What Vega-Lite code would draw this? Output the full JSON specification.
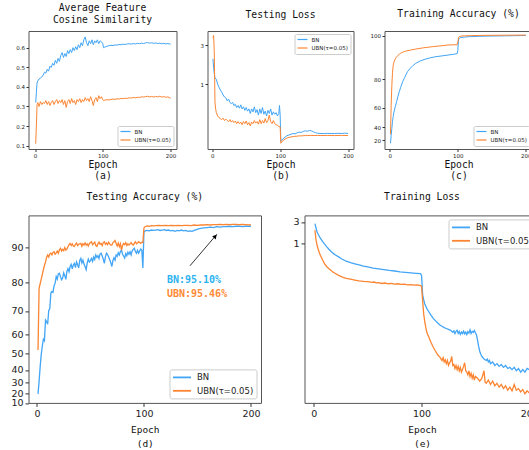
{
"$schema":"https://vega.github.io/schema/vega-lite/v6.json",
"padding":{"left":9.5,"top":2,"right":0,"bottom":0},
"background":"white",
"config":{
 "view":{"stroke":"#555555","strokeWidth":1},
 "axis":{"domain":false,"grid":false,"tickColor":"#333333","labelColor":"#222222","labelFont":"DejaVu Sans","titleFont":"DejaVu Sans Mono","titleFontWeight":"normal","titleColor":"#111111","labelFlush":false,"labelOverlap":false},
 "title":{"font":"DejaVu Sans Mono","fontSize":9.7,"fontWeight":"normal","color":"#111111","baseline":"bottom","anchor":"middle","frame":"group"},
 "legend":{"labelFont":"DejaVu Sans","labelColor":"#222222"}
},
"datasets":{
"a_bn":[{"e":1,"v":0.32},{"e":2,"v":0.37},{"e":3,"v":0.42},{"e":4,"v":0.43},{"e":6,"v":0.44},{"e":8,"v":0.445},{"e":10,"v":0.45},{"e":12,"v":0.46},{"e":14,"v":0.475},{"e":16,"v":0.47},{"e":18,"v":0.49},{"e":20,"v":0.48},{"e":22,"v":0.505},{"e":24,"v":0.5},{"e":26,"v":0.52},{"e":28,"v":0.51},{"e":30,"v":0.535},{"e":32,"v":0.52},{"e":34,"v":0.545},{"e":36,"v":0.53},{"e":38,"v":0.56},{"e":40,"v":0.575},{"e":42,"v":0.55},{"e":44,"v":0.57},{"e":46,"v":0.555},{"e":48,"v":0.585},{"e":50,"v":0.57},{"e":52,"v":0.59},{"e":54,"v":0.575},{"e":56,"v":0.6},{"e":58,"v":0.585},{"e":60,"v":0.605},{"e":62,"v":0.59},{"e":64,"v":0.615},{"e":66,"v":0.6},{"e":68,"v":0.625},{"e":70,"v":0.61},{"e":72,"v":0.64},{"e":74,"v":0.655},{"e":76,"v":0.625},{"e":78,"v":0.61},{"e":80,"v":0.635},{"e":82,"v":0.62},{"e":84,"v":0.64},{"e":86,"v":0.615},{"e":88,"v":0.635},{"e":90,"v":0.625},{"e":92,"v":0.64},{"e":94,"v":0.62},{"e":96,"v":0.635},{"e":98,"v":0.63},{"e":100,"v":0.62},{"e":101,"v":0.6},{"e":103,"v":0.603},{"e":106,"v":0.607},{"e":109,"v":0.61},{"e":112,"v":0.612},{"e":115,"v":0.611},{"e":118,"v":0.614},{"e":121,"v":0.613},{"e":124,"v":0.616},{"e":127,"v":0.615},{"e":130,"v":0.618},{"e":133,"v":0.616},{"e":136,"v":0.619},{"e":139,"v":0.62},{"e":142,"v":0.618},{"e":145,"v":0.621},{"e":148,"v":0.619},{"e":151,"v":0.622},{"e":154,"v":0.62},{"e":157,"v":0.623},{"e":160,"v":0.621},{"e":163,"v":0.624},{"e":166,"v":0.626},{"e":169,"v":0.623},{"e":172,"v":0.625},{"e":175,"v":0.622},{"e":178,"v":0.624},{"e":181,"v":0.621},{"e":184,"v":0.623},{"e":187,"v":0.62},{"e":190,"v":0.622},{"e":193,"v":0.619},{"e":196,"v":0.621},{"e":199,"v":0.618},{"e":200,"v":0.619}],
"a_ubn":[{"e":1,"v":0.11},{"e":2,"v":0.2},{"e":3,"v":0.31},{"e":4,"v":0.32},{"e":6,"v":0.3},{"e":8,"v":0.325},{"e":10,"v":0.31},{"e":12,"v":0.32},{"e":14,"v":0.315},{"e":16,"v":0.33},{"e":18,"v":0.31},{"e":20,"v":0.325},{"e":22,"v":0.305},{"e":24,"v":0.32},{"e":26,"v":0.33},{"e":28,"v":0.31},{"e":30,"v":0.325},{"e":32,"v":0.335},{"e":34,"v":0.315},{"e":36,"v":0.33},{"e":38,"v":0.32},{"e":40,"v":0.335},{"e":42,"v":0.31},{"e":44,"v":0.33},{"e":46,"v":0.295},{"e":48,"v":0.325},{"e":50,"v":0.335},{"e":52,"v":0.315},{"e":54,"v":0.34},{"e":56,"v":0.32},{"e":58,"v":0.33},{"e":60,"v":0.31},{"e":62,"v":0.335},{"e":64,"v":0.325},{"e":66,"v":0.34},{"e":68,"v":0.32},{"e":70,"v":0.335},{"e":72,"v":0.325},{"e":74,"v":0.345},{"e":76,"v":0.33},{"e":78,"v":0.34},{"e":80,"v":0.325},{"e":82,"v":0.35},{"e":84,"v":0.33},{"e":86,"v":0.305},{"e":88,"v":0.335},{"e":90,"v":0.345},{"e":92,"v":0.325},{"e":94,"v":0.355},{"e":96,"v":0.34},{"e":98,"v":0.35},{"e":100,"v":0.335},{"e":101,"v":0.33},{"e":103,"v":0.332},{"e":106,"v":0.335},{"e":109,"v":0.333},{"e":112,"v":0.336},{"e":115,"v":0.338},{"e":118,"v":0.336},{"e":121,"v":0.339},{"e":124,"v":0.338},{"e":127,"v":0.341},{"e":130,"v":0.34},{"e":133,"v":0.342},{"e":136,"v":0.341},{"e":139,"v":0.344},{"e":142,"v":0.343},{"e":145,"v":0.346},{"e":148,"v":0.344},{"e":151,"v":0.347},{"e":154,"v":0.346},{"e":157,"v":0.349},{"e":160,"v":0.348},{"e":163,"v":0.35},{"e":166,"v":0.352},{"e":169,"v":0.349},{"e":172,"v":0.351},{"e":175,"v":0.348},{"e":178,"v":0.351},{"e":181,"v":0.349},{"e":184,"v":0.352},{"e":187,"v":0.348},{"e":190,"v":0.35},{"e":193,"v":0.347},{"e":196,"v":0.349},{"e":199,"v":0.344},{"e":200,"v":0.342}],
"b_bn":[{"e":1,"v":2.05},{"e":2,"v":1.6},{"e":3,"v":1.35},{"e":4,"v":1.2},{"e":6,"v":1.15},{"e":8,"v":1.0},{"e":10,"v":0.92},{"e":12,"v":0.85},{"e":14,"v":0.8},{"e":16,"v":0.74},{"e":18,"v":0.7},{"e":20,"v":0.68},{"e":22,"v":0.63},{"e":24,"v":0.66},{"e":26,"v":0.6},{"e":28,"v":0.58},{"e":30,"v":0.6},{"e":32,"v":0.55},{"e":34,"v":0.57},{"e":36,"v":0.52},{"e":38,"v":0.55},{"e":40,"v":0.51},{"e":42,"v":0.56},{"e":44,"v":0.5},{"e":46,"v":0.53},{"e":48,"v":0.48},{"e":50,"v":0.52},{"e":52,"v":0.47},{"e":54,"v":0.5},{"e":56,"v":0.44},{"e":58,"v":0.5},{"e":60,"v":0.46},{"e":62,"v":0.53},{"e":64,"v":0.45},{"e":66,"v":0.49},{"e":68,"v":0.42},{"e":70,"v":0.5},{"e":72,"v":0.44},{"e":74,"v":0.52},{"e":76,"v":0.43},{"e":78,"v":0.47},{"e":80,"v":0.41},{"e":82,"v":0.48},{"e":84,"v":0.44},{"e":86,"v":0.5},{"e":88,"v":0.42},{"e":90,"v":0.46},{"e":92,"v":0.43},{"e":94,"v":0.45},{"e":96,"v":0.41},{"e":98,"v":0.44},{"e":99,"v":0.55},{"e":100,"v":0.42},{"e":101,"v":0.2},{"e":102,"v":0.205},{"e":104,"v":0.215},{"e":107,"v":0.225},{"e":110,"v":0.235},{"e":113,"v":0.24},{"e":116,"v":0.245},{"e":119,"v":0.25},{"e":122,"v":0.248},{"e":125,"v":0.255},{"e":128,"v":0.26},{"e":131,"v":0.258},{"e":134,"v":0.265},{"e":137,"v":0.27},{"e":140,"v":0.266},{"e":143,"v":0.272},{"e":146,"v":0.27},{"e":149,"v":0.262},{"e":152,"v":0.256},{"e":155,"v":0.252},{"e":160,"v":0.25},{"e":165,"v":0.25},{"e":170,"v":0.251},{"e":175,"v":0.25},{"e":180,"v":0.25},{"e":185,"v":0.251},{"e":190,"v":0.25},{"e":195,"v":0.252},{"e":200,"v":0.25}],
"b_ubn":[{"e":1,"v":3.7},{"e":2,"v":3.95},{"e":3,"v":2.5},{"e":4,"v":0.6},{"e":5,"v":0.5},{"e":6,"v":0.45},{"e":8,"v":0.41},{"e":10,"v":0.39},{"e":12,"v":0.38},{"e":14,"v":0.37},{"e":16,"v":0.385},{"e":18,"v":0.36},{"e":20,"v":0.375},{"e":22,"v":0.36},{"e":24,"v":0.35},{"e":26,"v":0.37},{"e":28,"v":0.345},{"e":30,"v":0.36},{"e":32,"v":0.34},{"e":34,"v":0.355},{"e":36,"v":0.33},{"e":38,"v":0.35},{"e":40,"v":0.33},{"e":42,"v":0.345},{"e":44,"v":0.32},{"e":46,"v":0.35},{"e":48,"v":0.33},{"e":50,"v":0.355},{"e":52,"v":0.32},{"e":54,"v":0.34},{"e":56,"v":0.31},{"e":58,"v":0.345},{"e":60,"v":0.33},{"e":62,"v":0.36},{"e":64,"v":0.335},{"e":66,"v":0.35},{"e":68,"v":0.325},{"e":70,"v":0.37},{"e":72,"v":0.33},{"e":74,"v":0.36},{"e":76,"v":0.335},{"e":78,"v":0.38},{"e":80,"v":0.34},{"e":82,"v":0.36},{"e":84,"v":0.42},{"e":86,"v":0.35},{"e":88,"v":0.33},{"e":90,"v":0.36},{"e":92,"v":0.33},{"e":94,"v":0.32},{"e":96,"v":0.315},{"e":98,"v":0.305},{"e":100,"v":0.3},{"e":101,"v":0.19},{"e":102,"v":0.195},{"e":104,"v":0.205},{"e":107,"v":0.213},{"e":110,"v":0.22},{"e":113,"v":0.224},{"e":116,"v":0.227},{"e":119,"v":0.229},{"e":122,"v":0.231},{"e":125,"v":0.232},{"e":128,"v":0.234},{"e":131,"v":0.234},{"e":134,"v":0.235},{"e":137,"v":0.236},{"e":140,"v":0.236},{"e":145,"v":0.237},{"e":150,"v":0.236},{"e":155,"v":0.237},{"e":160,"v":0.236},{"e":170,"v":0.237},{"e":180,"v":0.236},{"e":190,"v":0.237},{"e":200,"v":0.236}],
"c_bn":[{"e":1,"v":14},{"e":2,"v":27.7},{"e":3,"v":38.5},{"e":4,"v":46.1},{"e":5,"v":51.1},{"e":6,"v":55.2},{"e":8,"v":60.6},{"e":10,"v":64.1},{"e":12,"v":67.9},{"e":14,"v":71.2},{"e":16,"v":74.2},{"e":19,"v":78.2},{"e":22,"v":80.8},{"e":26,"v":83.4},{"e":30,"v":84.9},{"e":34,"v":86.2},{"e":38,"v":87.2},{"e":45,"v":88.4},{"e":53,"v":89.2},{"e":60,"v":89.8},{"e":68,"v":90.3},{"e":78,"v":90.7},{"e":87,"v":91.1},{"e":94,"v":91.4},{"e":99,"v":91.7},{"e":100,"v":93},{"e":101,"v":98},{"e":102,"v":98.7},{"e":104,"v":99.1},{"e":110,"v":99.3},{"e":117,"v":99.5},{"e":130,"v":99.65},{"e":140,"v":99.75},{"e":150,"v":99.8},{"e":160,"v":99.85},{"e":170,"v":99.9},{"e":180,"v":99.95},{"e":190,"v":100},{"e":200,"v":100.05}],
"c_ubn":[{"e":1,"v":29.2},{"e":2,"v":61.6},{"e":3,"v":75.6},{"e":4,"v":83.1},{"e":5,"v":86.3},{"e":6,"v":87.7},{"e":8,"v":89.3},{"e":10,"v":90.2},{"e":12,"v":90.9},{"e":14,"v":91.4},{"e":17,"v":92.1},{"e":20,"v":92.5},{"e":24,"v":92.9},{"e":30,"v":93.3},{"e":38,"v":93.8},{"e":50,"v":94.4},{"e":63,"v":94.9},{"e":75,"v":95.3},{"e":87,"v":95.7},{"e":99,"v":95.8},{"e":100,"v":96.9},{"e":101,"v":99},{"e":102,"v":99.5},{"e":105,"v":99.8},{"e":110,"v":99.9},{"e":120,"v":100},{"e":140,"v":100.1},{"e":170,"v":100.15},{"e":200,"v":100.2}],
"d_bn":[{"e":1,"v":19.3},{"e":2,"v":31.0},{"e":3,"v":42.0},{"e":4,"v":49.4},{"e":5,"v":53.8},{"e":6,"v":57.4},{"e":7,"v":56.6},{"e":8,"v":66.1},{"e":9,"v":65.4},{"e":10,"v":64.3},{"e":11,"v":70.1},{"e":12,"v":70.8},{"e":13,"v":76.3},{"e":14,"v":76.9},{"e":15,"v":76.6},{"e":16,"v":78.9},{"e":17,"v":79.8},{"e":18,"v":81.7},{"e":19,"v":81.0},{"e":20,"v":82.5},{"e":21,"v":82.7},{"e":22,"v":81.7},{"e":23,"v":80.8},{"e":24,"v":81.3},{"e":25,"v":82.8},{"e":26,"v":82.0},{"e":27,"v":80.9},{"e":28,"v":83.2},{"e":29,"v":84.0},{"e":30,"v":83.1},{"e":31,"v":84.6},{"e":32,"v":85.2},{"e":33,"v":83.9},{"e":34,"v":85.0},{"e":35,"v":85.5},{"e":36,"v":84.3},{"e":37,"v":85.9},{"e":38,"v":85.1},{"e":39,"v":84.2},{"e":40,"v":86.3},{"e":41,"v":86.9},{"e":42,"v":85.6},{"e":43,"v":86.4},{"e":44,"v":85.3},{"e":45,"v":84.5},{"e":46,"v":83.7},{"e":47,"v":85.6},{"e":48,"v":86.7},{"e":49,"v":85.9},{"e":50,"v":86.3},{"e":51,"v":86.9},{"e":52,"v":86.1},{"e":53,"v":87.3},{"e":54,"v":86.6},{"e":55,"v":87.9},{"e":56,"v":87.2},{"e":57,"v":87.7},{"e":58,"v":86.9},{"e":59,"v":88.2},{"e":60,"v":88.4},{"e":61,"v":87.6},{"e":62,"v":86.7},{"e":63,"v":85.5},{"e":64,"v":87.4},{"e":65,"v":88.4},{"e":66,"v":88.0},{"e":67,"v":87.3},{"e":68,"v":86.5},{"e":69,"v":85.7},{"e":70,"v":84.6},{"e":71,"v":86.3},{"e":72,"v":87.1},{"e":73,"v":86.4},{"e":74,"v":87.9},{"e":75,"v":87.5},{"e":76,"v":88.5},{"e":77,"v":87.9},{"e":78,"v":88.9},{"e":79,"v":89.3},{"e":80,"v":88.1},{"e":81,"v":87.6},{"e":82,"v":87.0},{"e":83,"v":88.3},{"e":84,"v":87.7},{"e":85,"v":88.7},{"e":86,"v":88.1},{"e":87,"v":88.8},{"e":88,"v":87.9},{"e":89,"v":89.1},{"e":90,"v":89.5},{"e":91,"v":89.8},{"e":92,"v":88.9},{"e":93,"v":88.4},{"e":94,"v":89.2},{"e":95,"v":88.4},{"e":96,"v":89.0},{"e":97,"v":89.6},{"e":98,"v":89.3},{"e":99,"v":84.2},{"e":100,"v":93.7},{"e":101,"v":94.0},{"e":103,"v":94.1},{"e":105,"v":94.0},{"e":107,"v":94.2},{"e":109,"v":94.1},{"e":111,"v":94.2},{"e":113,"v":94.3},{"e":115,"v":94.1},{"e":117,"v":94.2},{"e":119,"v":94.3},{"e":121,"v":94.1},{"e":123,"v":94.2},{"e":125,"v":94.0},{"e":127,"v":94.1},{"e":129,"v":93.9},{"e":131,"v":94.1},{"e":133,"v":94.0},{"e":135,"v":94.2},{"e":137,"v":94.0},{"e":139,"v":94.1},{"e":141,"v":93.9},{"e":143,"v":94.0},{"e":145,"v":93.9},{"e":147,"v":94.1},{"e":149,"v":94.3},{"e":151,"v":94.5},{"e":153,"v":94.6},{"e":156,"v":94.7},{"e":159,"v":94.8},{"e":162,"v":94.9},{"e":165,"v":94.8},{"e":168,"v":95.0},{"e":171,"v":94.9},{"e":174,"v":95.0},{"e":177,"v":95.0},{"e":180,"v":95.1},{"e":183,"v":95.0},{"e":186,"v":95.1},{"e":189,"v":95.1},{"e":192,"v":95.0},{"e":195,"v":95.1},{"e":198,"v":95.1},{"e":200,"v":95.1}],
"d_ubn":[{"e":1,"v":51.9},{"e":2,"v":78.0},{"e":3,"v":79.6},{"e":4,"v":81.0},{"e":5,"v":82.3},{"e":6,"v":83.7},{"e":7,"v":84.9},{"e":8,"v":85.9},{"e":9,"v":87.2},{"e":10,"v":87.9},{"e":11,"v":87.3},{"e":12,"v":88.2},{"e":13,"v":88.4},{"e":14,"v":87.9},{"e":15,"v":88.6},{"e":16,"v":88.8},{"e":17,"v":88.1},{"e":18,"v":88.5},{"e":19,"v":89.0},{"e":20,"v":88.4},{"e":21,"v":89.4},{"e":22,"v":89.8},{"e":23,"v":89.0},{"e":24,"v":89.5},{"e":25,"v":89.1},{"e":26,"v":90.0},{"e":27,"v":89.3},{"e":28,"v":89.6},{"e":29,"v":90.2},{"e":30,"v":90.7},{"e":31,"v":91.0},{"e":32,"v":90.5},{"e":33,"v":90.9},{"e":34,"v":90.4},{"e":35,"v":90.3},{"e":36,"v":90.8},{"e":37,"v":91.1},{"e":38,"v":90.5},{"e":39,"v":90.8},{"e":40,"v":90.9},{"e":41,"v":91.0},{"e":42,"v":90.3},{"e":43,"v":90.9},{"e":44,"v":90.6},{"e":45,"v":91.1},{"e":46,"v":90.6},{"e":47,"v":90.9},{"e":48,"v":90.4},{"e":49,"v":91.0},{"e":50,"v":91.2},{"e":51,"v":91.4},{"e":52,"v":90.7},{"e":53,"v":91.0},{"e":54,"v":91.3},{"e":55,"v":90.5},{"e":56,"v":90.3},{"e":57,"v":90.9},{"e":58,"v":91.3},{"e":59,"v":90.8},{"e":60,"v":91.0},{"e":61,"v":90.5},{"e":62,"v":91.2},{"e":63,"v":91.4},{"e":64,"v":90.8},{"e":65,"v":91.1},{"e":66,"v":90.7},{"e":67,"v":91.3},{"e":68,"v":90.9},{"e":69,"v":90.6},{"e":70,"v":90.6},{"e":71,"v":91.2},{"e":72,"v":91.4},{"e":73,"v":91.7},{"e":74,"v":91.0},{"e":75,"v":90.4},{"e":76,"v":91.1},{"e":77,"v":90.2},{"e":78,"v":90.9},{"e":79,"v":89.3},{"e":80,"v":90.5},{"e":81,"v":91.0},{"e":82,"v":90.7},{"e":83,"v":91.2},{"e":84,"v":90.5},{"e":85,"v":90.9},{"e":86,"v":90.6},{"e":87,"v":90.9},{"e":88,"v":91.2},{"e":89,"v":90.8},{"e":90,"v":90.6},{"e":91,"v":91.0},{"e":92,"v":91.4},{"e":93,"v":90.9},{"e":94,"v":91.1},{"e":95,"v":91.4},{"e":96,"v":91.2},{"e":97,"v":91.0},{"e":98,"v":91.3},{"e":99,"v":91.2},{"e":100,"v":94.7},{"e":101,"v":95.0},{"e":103,"v":95.2},{"e":105,"v":95.1},{"e":107,"v":95.25},{"e":109,"v":95.2},{"e":111,"v":95.25},{"e":114,"v":95.3},{"e":117,"v":95.25},{"e":120,"v":95.3},{"e":123,"v":95.25},{"e":126,"v":95.3},{"e":129,"v":95.25},{"e":132,"v":95.3},{"e":135,"v":95.25},{"e":138,"v":95.3},{"e":141,"v":95.3},{"e":144,"v":95.25},{"e":147,"v":95.4},{"e":150,"v":95.3},{"e":153,"v":95.4},{"e":156,"v":95.4},{"e":159,"v":95.5},{"e":162,"v":95.4},{"e":165,"v":95.5},{"e":168,"v":95.5},{"e":171,"v":95.55},{"e":174,"v":95.5},{"e":177,"v":95.55},{"e":180,"v":95.5},{"e":183,"v":95.55},{"e":186,"v":95.55},{"e":189,"v":95.5},{"e":192,"v":95.55},{"e":195,"v":95.5},{"e":198,"v":95.45},{"e":200,"v":95.46}],
"e_bn":[{"e":1,"v":2.75},{"e":2,"v":2.2},{"e":3,"v":1.8},{"e":4,"v":1.6},{"e":5,"v":1.45},{"e":6,"v":1.32},{"e":8,"v":1.12},{"e":10,"v":0.97},{"e":12,"v":0.85},{"e":14,"v":0.75},{"e":16,"v":0.67},{"e":18,"v":0.61},{"e":20,"v":0.56},{"e":23,"v":0.51},{"e":26,"v":0.46},{"e":30,"v":0.41},{"e":34,"v":0.38},{"e":38,"v":0.36},{"e":42,"v":0.34},{"e":46,"v":0.32},{"e":50,"v":0.307},{"e":55,"v":0.29},{"e":60,"v":0.278},{"e":65,"v":0.268},{"e":70,"v":0.258},{"e":75,"v":0.25},{"e":80,"v":0.24},{"e":85,"v":0.233},{"e":90,"v":0.227},{"e":95,"v":0.222},{"e":99,"v":0.218},{"e":100,"v":0.2},{"e":101,"v":0.075},{"e":102,"v":0.058},{"e":103,"v":0.047},{"e":105,"v":0.037},{"e":107,"v":0.031},{"e":109,"v":0.026},{"e":111,"v":0.0225},{"e":113,"v":0.02},{"e":115,"v":0.018},{"e":117,"v":0.0163},{"e":119,"v":0.0152},{"e":121,"v":0.0142},{"e":123,"v":0.0136},{"e":125,"v":0.013},{"e":127,"v":0.0124},{"e":129,"v":0.0112},{"e":130,"v":0.0121},{"e":131,"v":0.0105},{"e":132,"v":0.0118},{"e":133,"v":0.0125},{"e":134,"v":0.0106},{"e":135,"v":0.0117},{"e":136,"v":0.0101},{"e":137,"v":0.0114},{"e":138,"v":0.0105},{"e":139,"v":0.0119},{"e":140,"v":0.0104},{"e":141,"v":0.0113},{"e":142,"v":0.01},{"e":143,"v":0.0116},{"e":144,"v":0.0108},{"e":145,"v":0.0127},{"e":146,"v":0.0106},{"e":147,"v":0.0118},{"e":148,"v":0.0112},{"e":149,"v":0.0123},{"e":150,"v":0.0108},{"e":151,"v":0.0098},{"e":152,"v":0.0075},{"e":153,"v":0.0055},{"e":154,"v":0.0043},{"e":155,"v":0.0037},{"e":156,"v":0.0033},{"e":158,"v":0.0029},{"e":160,"v":0.0027},{"e":161,"v":0.0029},{"e":162,"v":0.0025},{"e":163,"v":0.0027},{"e":164,"v":0.0023},{"e":166,"v":0.0025},{"e":168,"v":0.0021},{"e":170,"v":0.0023},{"e":172,"v":0.002},{"e":174,"v":0.0022},{"e":176,"v":0.0019},{"e":178,"v":0.0021},{"e":180,"v":0.0018},{"e":182,"v":0.0019},{"e":184,"v":0.0017},{"e":186,"v":0.0019},{"e":188,"v":0.0016},{"e":190,"v":0.0018},{"e":192,"v":0.0015},{"e":194,"v":0.0017},{"e":196,"v":0.0015},{"e":198,"v":0.0018},{"e":200,"v":0.0017}],
"e_ubn":[{"e":1,"v":1.97},{"e":2,"v":1.2},{"e":3,"v":0.92},{"e":4,"v":0.75},{"e":5,"v":0.64},{"e":6,"v":0.556},{"e":8,"v":0.44},{"e":10,"v":0.36},{"e":12,"v":0.31},{"e":14,"v":0.28},{"e":16,"v":0.255},{"e":18,"v":0.235},{"e":20,"v":0.22},{"e":23,"v":0.2},{"e":26,"v":0.185},{"e":30,"v":0.172},{"e":34,"v":0.165},{"e":38,"v":0.158},{"e":42,"v":0.152},{"e":46,"v":0.148},{"e":50,"v":0.146},{"e":54,"v":0.14},{"e":56,"v":0.143},{"e":58,"v":0.137},{"e":60,"v":0.139},{"e":63,"v":0.133},{"e":66,"v":0.136},{"e":69,"v":0.131},{"e":72,"v":0.133},{"e":75,"v":0.129},{"e":78,"v":0.131},{"e":81,"v":0.127},{"e":84,"v":0.129},{"e":87,"v":0.124},{"e":90,"v":0.126},{"e":93,"v":0.122},{"e":96,"v":0.124},{"e":99,"v":0.119},{"e":100,"v":0.115},{"e":101,"v":0.055},{"e":102,"v":0.028},{"e":103,"v":0.019},{"e":104,"v":0.014},{"e":105,"v":0.011},{"e":107,"v":0.0085},{"e":109,"v":0.0065},{"e":111,"v":0.0052},{"e":113,"v":0.0043},{"e":115,"v":0.0036},{"e":117,"v":0.0032},{"e":119,"v":0.0027},{"e":120,"v":0.0031},{"e":121,"v":0.0025},{"e":122,"v":0.0028},{"e":123,"v":0.0023},{"e":124,"v":0.0027},{"e":125,"v":0.0021},{"e":126,"v":0.0024},{"e":127,"v":0.0026},{"e":128,"v":0.0033},{"e":129,"v":0.0021},{"e":130,"v":0.0022},{"e":131,"v":0.0018},{"e":132,"v":0.0021},{"e":133,"v":0.0017},{"e":134,"v":0.002},{"e":135,"v":0.0016},{"e":136,"v":0.0019},{"e":137,"v":0.0015},{"e":138,"v":0.0017},{"e":139,"v":0.002},{"e":140,"v":0.0024},{"e":141,"v":0.0016},{"e":142,"v":0.0015},{"e":143,"v":0.0013},{"e":144,"v":0.0016},{"e":145,"v":0.0012},{"e":146,"v":0.0014},{"e":147,"v":0.0011},{"e":148,"v":0.0013},{"e":149,"v":0.001},{"e":150,"v":0.0012},{"e":152,"v":0.0011},{"e":154,"v":0.00095},{"e":156,"v":0.0011},{"e":158,"v":0.0016},{"e":159,"v":0.0009},{"e":160,"v":0.00085},{"e":162,"v":0.001},{"e":164,"v":0.0008},{"e":166,"v":0.00095},{"e":168,"v":0.00075},{"e":170,"v":0.00085},{"e":172,"v":0.0007},{"e":174,"v":0.0008},{"e":176,"v":0.00065},{"e":178,"v":0.00075},{"e":180,"v":0.0006},{"e":182,"v":0.0007},{"e":184,"v":0.00058},{"e":186,"v":0.0008},{"e":188,"v":0.0006},{"e":190,"v":0.00065},{"e":192,"v":0.00055},{"e":194,"v":0.00062},{"e":196,"v":0.0005},{"e":198,"v":0.00058},{"e":200,"v":0.00052}]
},
"spacing":9.4,
"resolve":{"scale":{"color":"independent","x":"independent","y":"independent"},"legend":{"color":"independent"}},
"vconcat":[
{"hconcat":[
 {"width":148,"height":118,
  "title":{"text":["Average Feature","Cosine Similarity"],"offset":6,"lineHeight":12.6},
  "encoding":{
   "x":{"field":"e","type":"quantitative","scale":{"domain":[-9.6,208.7],"nice":false,"zero":false},"axis":{"values":[0,100,200],"title":["Epoch","(a)"],"labelFontSize":5.5,"tickSize":2.5,"labelPadding":1.5,"titleFontSize":9.7,"titleY":18.1,"titleBaseline":"alphabetic","titleLineHeight":11.7}},
   "y":{"field":"v","type":"quantitative","scale":{"domain":[0.083,0.685],"nice":false,"zero":false},"axis":{"values":[0.1,0.2,0.3,0.4,0.5,0.6],"format":".1f","title":null,"labelFontSize":5.5,"tickSize":2.5,"labelPadding":1.5,"minExtent":18,"maxExtent":18}}},
  "layer":[
   {"data":{"name":"a_bn"},"mark":{"type":"line","strokeWidth":1},"encoding":{"color":{"datum":"BN","scale":{"domain":["BN","UBN(τ=0.05)"],"range":["#42a5f5","#fb8532"]},"legend":{"title":null,"orient":"bottom-right","offset":3,"labelFontSize":5.5,"symbolType":"M-2,0H2","symbolSize":25,"symbolOffset":2.5,"symbolStrokeWidth":1.2,"padding":2,"rowPadding":1.5,"labelOffset":5.5,"cornerRadius":1.5,"strokeColor":"#cccccc","fillColor":"white"}}}},
   {"data":{"name":"a_ubn"},"mark":{"type":"line","strokeWidth":1},"encoding":{"color":{"datum":"UBN(τ=0.05)"}}}]},
 {"width":146,"height":118,
  "title":{"text":"Testing Loss","offset":11},
  "encoding":{
   "x":{"field":"e","type":"quantitative","scale":{"domain":[-7,208],"nice":false,"zero":false},"axis":{"values":[0,100,200],"title":["Epoch","(b)"],"labelFontSize":5.5,"tickSize":2.5,"labelPadding":1.5,"titleFontSize":9.7,"titleY":18.1,"titleBaseline":"alphabetic","titleLineHeight":11.7}},
   "y":{"field":"v","type":"quantitative","scale":{"type":"log","domain":[0.1616,4.49],"nice":false,"zero":false},"axis":{"values":[1,3],"format":"~g","title":null,"labelFontSize":5.5,"tickSize":2.5,"labelPadding":1.5}}},
  "layer":[
   {"data":{"name":"b_bn"},"mark":{"type":"line","strokeWidth":1},"encoding":{"color":{"datum":"BN","scale":{"domain":["BN","UBN(τ=0.05)"],"range":["#42a5f5","#fb8532"]},"legend":{"title":null,"orient":"top-right","offset":3,"labelFontSize":5.5,"symbolType":"M-2,0H2","symbolSize":25,"symbolOffset":2.5,"symbolStrokeWidth":1.2,"padding":2,"rowPadding":1.5,"labelOffset":5.5,"cornerRadius":1.5,"strokeColor":"#cccccc","fillColor":"white"}}}},
   {"data":{"name":"b_ubn"},"mark":{"type":"line","strokeWidth":1},"encoding":{"color":{"datum":"UBN(τ=0.05)"}}}]},
 {"width":148,"height":118,
  "title":{"text":"Training Accuracy (%)","offset":12.5},
  "encoding":{
   "x":{"field":"e","type":"quantitative","scale":{"domain":[-7.8,209.8],"nice":false,"zero":false},"axis":{"values":[0,100,200],"title":["Epoch","(c)"],"labelFontSize":5.5,"tickSize":2.5,"labelPadding":1.5,"titleFontSize":9.7,"titleY":18.1,"titleBaseline":"alphabetic","titleLineHeight":11.7}},
   "y":{"field":"v","type":"quantitative","scale":{"type":"linear","domain":[2.6,20,40,60,80,100,101.8],"range":[118,109.3,96.3,76.6,48,4.6,0],"nice":false,"zero":false},"axis":{"values":[20,40,60,80,100],"title":null,"labelFontSize":5.5,"tickSize":2.5,"labelPadding":1.5}}},
  "layer":[
   {"data":{"name":"c_bn"},"mark":{"type":"line","strokeWidth":1},"encoding":{"color":{"datum":"BN","scale":{"domain":["BN","UBN(τ=0.05)"],"range":["#42a5f5","#fb8532"]},"legend":{"title":null,"orient":"bottom-right","offset":3,"labelFontSize":5.5,"symbolType":"M-2,0H2","symbolSize":25,"symbolOffset":2.5,"symbolStrokeWidth":1.2,"padding":2,"rowPadding":1.5,"labelOffset":5.5,"cornerRadius":1.5,"strokeColor":"#cccccc","fillColor":"white"}}}},
   {"data":{"name":"c_ubn"},"mark":{"type":"line","strokeWidth":1},"encoding":{"color":{"datum":"UBN(τ=0.05)"}}}]}
 ],
 "spacing":31,"bounds":"flush",
 "resolve":{"scale":{"color":"independent","x":"independent","y":"independent"},"legend":{"color":"independent"}}},
{"hconcat":[
 {"width":232.5,"height":187.5,
  "title":{"text":"Testing Accuracy (%)","offset":14},
  "encoding":{
   "x":{"field":"e","type":"quantitative","scale":{"domain":[-7.9,209.4],"nice":false,"zero":false},"axis":{"values":[0,100,200],"title":["Epoch","(d)"],"labelFontSize":9.5,"tickSize":3.5,"labelPadding":2,"titleFontSize":9.5,"titleY":29.4,"titleBaseline":"alphabetic","titleLineHeight":14}},
   "y":{"field":"v","type":"quantitative","scale":{"type":"linear","domain":[10,20,30,40,50,60,70,80,90,97.7],"range":[187.5,177.8,167.2,154.5,138.2,118.8,95.5,67.2,32.2,0],"nice":false,"zero":false},"axis":{"values":[10,20,30,40,50,60,70,80,90],"title":null,"labelFontSize":9.5,"tickSize":3.5,"labelPadding":2,"minExtent":18,"maxExtent":18}}},
  "layer":[
   {"data":{"name":"d_bn"},"mark":{"type":"line","strokeWidth":1.3},"encoding":{"color":{"datum":"BN","scale":{"domain":["BN","UBN(τ=0.05)"],"range":["#42a5f5","#fb8532"]},"legend":{"title":null,"orient":"bottom-right","offset":5,"labelFontSize":8.5,"symbolType":"M-2,0H2","symbolSize":81,"symbolOffset":4.5,"symbolStrokeWidth":1.8,"padding":2.5,"rowPadding":3.4,"labelOffset":9.5,"cornerRadius":2,"strokeColor":"#cccccc","fillColor":"white"}}}},
   {"data":{"name":"d_ubn"},"mark":{"type":"line","strokeWidth":1.3},"encoding":{"color":{"datum":"UBN(τ=0.05)"}}},
   {"data":{"values":[{"e":143,"v":84.8,"e2":168.2,"v2":93.2}]},"mark":{"type":"rule","color":"black","strokeWidth":0.8},"encoding":{"x2":{"field":"e2"},"y2":{"field":"v2"}}},
   {"data":{"values":[{"e":166.7,"v":92.7}]},"mark":{"type":"point","shape":"triangle-up","angle":41,"size":22,"filled":true,"color":"black","opacity":1},"encoding":{}},
   {"data":{"values":[{"e":121.5,"v":80.7,"t":"BN:95.10%"}]},"mark":{"type":"text","align":"left","baseline":"middle","font":"DejaVu Sans Mono","fontWeight":"bold","fontSize":10,"color":"#2db3f0"},"encoding":{"text":{"field":"t"}}},
   {"data":{"values":[{"e":121.5,"v":76.0,"t":"UBN:95.46%"}]},"mark":{"type":"text","align":"left","baseline":"middle","font":"DejaVu Sans Mono","fontWeight":"bold","fontSize":10,"color":"#ff8a36"},"encoding":{"text":{"field":"t"}}}]},
 {"width":235,"height":187.5,
  "title":{"text":"Training Loss","offset":14},
  "encoding":{
   "x":{"field":"e","type":"quantitative","scale":{"domain":[-8.7,209.5],"nice":false,"zero":false},"axis":{"values":[0,100,200],"title":["Epoch","(e)"],"labelFontSize":9.5,"tickSize":3.5,"labelPadding":2,"titleFontSize":9.5,"titleY":29.4,"titleBaseline":"alphabetic","titleLineHeight":14}},
   "y":{"field":"v","type":"quantitative","scale":{"type":"log","domain":[0.000315,4.17],"nice":false,"zero":false},"axis":{"values":[1,3],"format":"~g","title":null,"labelFontSize":9.5,"tickSize":3.5,"labelPadding":2}}},
  "layer":[
   {"data":{"name":"e_bn"},"mark":{"type":"line","strokeWidth":1.3},"encoding":{"color":{"datum":"BN","scale":{"domain":["BN","UBN(τ=0.05)"],"range":["#42a5f5","#fb8532"]},"legend":{"title":null,"orient":"top-right","offset":4,"labelFontSize":8.5,"symbolType":"M-2,0H2","symbolSize":81,"symbolOffset":4.5,"symbolStrokeWidth":1.8,"padding":2.5,"rowPadding":3.4,"labelOffset":9.5,"cornerRadius":2,"strokeColor":"#cccccc","fillColor":"white"}}}},
   {"data":{"name":"e_ubn"},"mark":{"type":"line","strokeWidth":1.3},"encoding":{"color":{"datum":"UBN(τ=0.05)"}}}]}
 ],
 "spacing":43,"bounds":"flush",
 "resolve":{"scale":{"color":"independent","x":"independent","y":"independent"},"legend":{"color":"independent"}}}
]
}
